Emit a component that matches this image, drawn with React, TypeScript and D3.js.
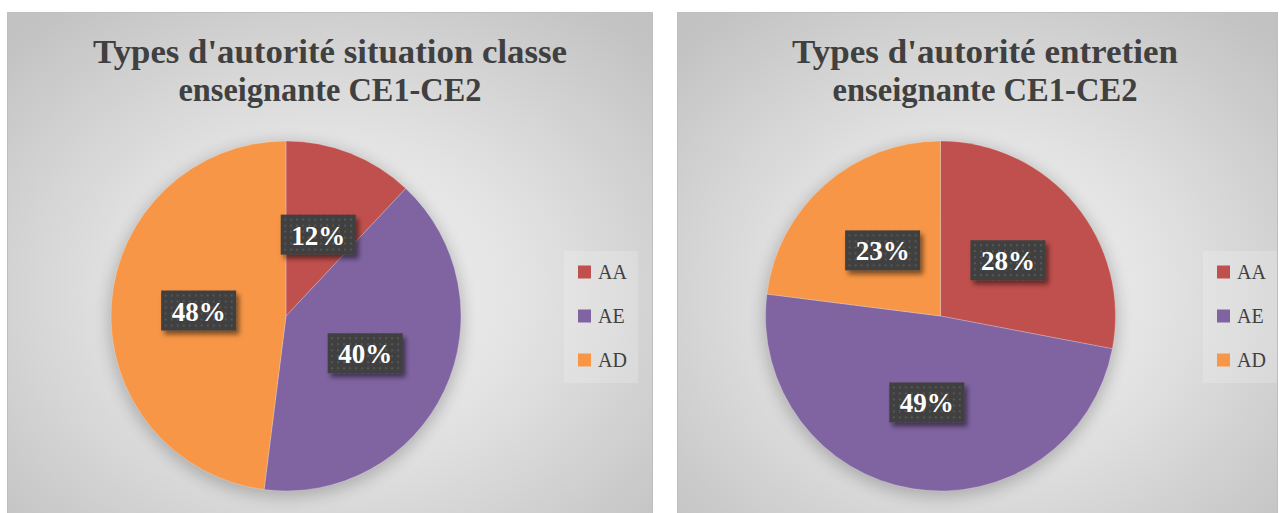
import React from "react";
import * as d3 from "d3";

const categories = ["AA", "AE", "AD"];
const valuesClasse = [12, 40, 48];
const valuesEntretien = [28, 49, 23];
const colors = ["#c0504d", "#8064a2", "#f79646"];
const titleClasse = ["Types d'autorité situation classe", "enseignante CE1-CE2"];
const titleEntretien = ["Types d'autorité entretien", "enseignante CE1-CE2"];

const W = 1279;
const H = 513;

type PanelCfg = {
  id: string;
  x: number; y: number; w: number; h: number;
  cx: number; cy: number; r: number;
  titleX: number; titleLens: number[];
  legendX: number;
  values: number[];
  title: string[];
};

const panels: PanelCfg[] = [
  { id: "p1", x: 7.5, y: 12.5, w: 645, h: 510, cx: 286, cy: 316, r: 175, titleX: 330, titleLens: [474, 303], legendX: 564, values: valuesClasse, title: titleClasse },
  { id: "p2", x: 677.5, y: 12.5, w: 600, h: 510, cx: 940.5, cy: 316, r: 175, titleX: 985, titleLens: [386, 305], legendX: 1203, values: valuesEntretien, title: titleEntretien },
];

const pieGen = d3.pie<number>().sort(null).value((d) => d);

function Panel({ p }: { p: PanelCfg }) {
  const arcs = pieGen(p.values);
  const arc = d3.arc<d3.PieArcDatum<number>>().innerRadius(0).outerRadius(p.r);
  const labelArc = d3.arc<d3.PieArcDatum<number>>().innerRadius(0).outerRadius(p.r);
  const legendY = d3.scalePoint<string>().domain(categories).range([272, 360]);
  return (
    <g>
      <rect x={p.x} y={p.y} width={p.w} height={p.h} fill={`url(#bg-${p.id})`} stroke="#bfbfbf" strokeWidth={1} />
      {p.title.map((t, i) => (
        <text key={i} x={p.titleX} y={63 + i * 38} textAnchor="middle" fontFamily="'Liberation Serif', serif" fontWeight="bold" fontSize={34} fill="#404040" textLength={p.titleLens[i]} lengthAdjust="spacingAndGlyphs">{t}</text>
      ))}
      <circle cx={p.cx} cy={p.cy + 4} r={p.r + 2} fill="#000" opacity={0.22} filter="url(#pieShadow)" />
      <g transform={`translate(${p.cx},${p.cy})`}>
        {arcs.map((a, i) => (
          <path key={i} d={arc(a) || ""} fill={colors[i]} stroke="#ffffff" strokeOpacity={0.4} strokeWidth={0.6} />
        ))}
        {arcs.map((a, i) => {
          const [lx, ly] = labelArc.centroid(a);
          return (
            <g key={"l" + i} transform={`translate(${lx},${ly})`}>
              <rect x={-37.5} y={-20} width={75} height={40} fill="url(#dots)" filter="url(#boxShadow)" />
              <text x={0} y={10} textAnchor="middle" fontFamily="'Liberation Serif', serif" fontWeight="bold" fontSize={27} fill="#ffffff">{`${a.data}%`}</text>
            </g>
          );
        })}
      </g>
      <rect x={p.legendX} y={251} width={74} height={132} fill="#ffffff" opacity={0.18} />
      {categories.map((c, i) => (
        <g key={c} transform={`translate(${p.legendX + 14},${legendY(c)})`}>
          <rect x={0} y={-6.5} width={13} height={13} fill={colors[i]} />
          <text x={20} y={7} fontFamily="'Liberation Serif', serif" fontSize={20} fill="#404040">{c}</text>
        </g>
      ))}
    </g>
  );
}

export default function App() {
  return (
    <svg width={W} height={H} style={{ position: "absolute", left: 0, top: 0, display: "block", background: "#ffffff" }}>
      <defs>
        {panels.map((p) => (
          <radialGradient key={p.id} id={`bg-${p.id}`} cx="50%" cy="55%" r="70%">
            <stop offset="0%" stopColor="#f4f4f4" />
            <stop offset="45%" stopColor="#e2e2e2" />
            <stop offset="100%" stopColor="#c2c2c2" />
          </radialGradient>
        ))}
        <pattern id="dots" width={6} height={6} patternUnits="userSpaceOnUse">
          <rect width={6} height={6} fill="#3f3f3f" />
          <rect x={2} y={2} width={2} height={2} fill="#575757" />
        </pattern>
        <filter id="boxShadow" x="-30%" y="-30%" width="160%" height="180%">
          <feDropShadow dx={3} dy={4} stdDeviation={2.5} floodColor="#000" floodOpacity={0.5} />
        </filter>
        <filter id="pieShadow" x="-30%" y="-30%" width="160%" height="160%">
          <feGaussianBlur stdDeviation={8} />
        </filter>
      </defs>
      {panels.map((p) => (
        <Panel key={p.id} p={p} />
      ))}
    </svg>
  );
}
